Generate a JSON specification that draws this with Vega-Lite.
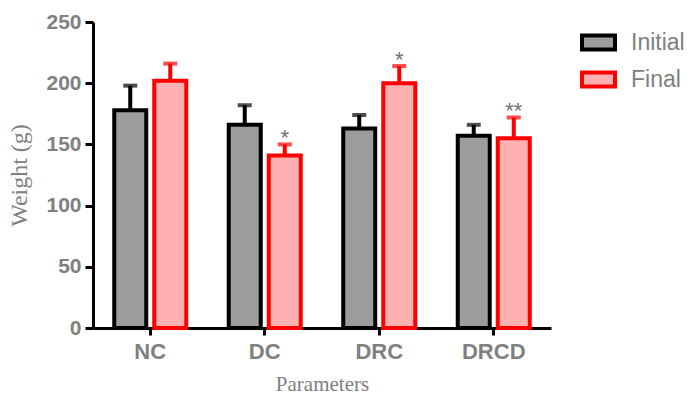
{
  "$schema": "https://vega.github.io/schema/vega-lite/v6.json",
  "width": 458,
  "height": 306,
  "autosize": {"type": "none"},
  "padding": {"left": 93, "top": 22, "right": 140, "bottom": 68},
  "background": "white",
  "config": {"view": {"stroke": null}},
  "data": {
    "values": [
      {"group": "NC", "series": "Initial", "mean": 178, "upper": 198, "sig": ""},
      {"group": "NC", "series": "Final", "mean": 202, "upper": 216, "sig": ""},
      {"group": "DC", "series": "Initial", "mean": 166, "upper": 182, "sig": ""},
      {"group": "DC", "series": "Final", "mean": 141, "upper": 150, "sig": "*"},
      {"group": "DRC", "series": "Initial", "mean": 163, "upper": 174, "sig": ""},
      {"group": "DRC", "series": "Final", "mean": 200, "upper": 214, "sig": "*"},
      {"group": "DRCD", "series": "Initial", "mean": 157, "upper": 166, "sig": ""},
      {"group": "DRCD", "series": "Final", "mean": 155, "upper": 172, "sig": "**"}
    ]
  },
  "encoding": {
    "x": {
      "field": "group",
      "type": "nominal",
      "sort": ["NC", "DC", "DRC", "DRCD"],
      "scale": {"paddingInner": 0.371, "paddingOuter": 0.1855},
      "axis": {
        "title": "Parameters",
        "titleFont": "Liberation Serif",
        "titleFontSize": 21,
        "titleFontWeight": "normal",
        "titleColor": "#808080",
        "titlePadding": 11,
        "labelFont": "Liberation Sans",
        "labelFontSize": 22,
        "labelFontWeight": "bold",
        "labelColor": "#808080",
        "labelAngle": 0,
        "labelPadding": 6,
        "domainColor": "black",
        "domainWidth": 3,
        "tickColor": "black",
        "tickWidth": 3,
        "tickSize": 7,
        "grid": false
      }
    },
    "xOffset": {
      "field": "series",
      "type": "nominal",
      "sort": ["Initial", "Final"],
      "scale": {"paddingInner": 0.2, "paddingOuter": 0}
    }
  },
  "layer": [
    {
      "mark": {"type": "bar", "strokeWidth": 4, "strokeJoin": "miter"},
      "encoding": {
        "y": {
          "field": "mean",
          "type": "quantitative",
          "scale": {"domain": [0, 250], "nice": false},
          "axis": {
            "title": "Weight (g)",
            "titleFont": "Liberation Serif",
            "titleFontSize": 24,
            "titleFontWeight": "normal",
            "titleColor": "#808080",
            "titlePadding": 14,
            "values": [0, 50, 100, 150, 200, 250],
            "labelFont": "Liberation Sans",
            "labelFontSize": 21,
            "labelFontWeight": "bold",
            "labelColor": "#808080",
            "labelPadding": 4,
            "domainColor": "black",
            "domainWidth": 3,
            "tickColor": "black",
            "tickWidth": 3,
            "tickSize": 8,
            "grid": false
          }
        },
        "fill": {
          "field": "series",
          "type": "nominal",
          "sort": ["Initial", "Final"],
          "scale": {"domain": ["Initial", "Final"], "range": ["#9c9c9c", "#ffb0b0"]},
          "legend": {
            "title": null,
            "orient": "none",
            "legendX": 487,
            "legendY": 2,
            "padding": 0,
            "symbolType": "M-1,-0.424H1V0.424H-1Z",
            "symbolSize": 1089,
            "symbolStrokeWidth": 4,
            "labelFont": "Liberation Sans",
            "labelFontSize": 23,
            "labelColor": "#808080",
            "labelOffset": 14,
            "rowPadding": 3
          }
        },
        "stroke": {
          "field": "series",
          "type": "nominal",
          "sort": ["Initial", "Final"],
          "scale": {"domain": ["Initial", "Final"], "range": ["black", "red"]},
          "legend": {
            "title": null,
            "orient": "none",
            "legendX": 487,
            "legendY": 2,
            "padding": 0,
            "symbolType": "M-1,-0.424H1V0.424H-1Z",
            "symbolSize": 1089,
            "symbolStrokeWidth": 4,
            "labelFont": "Liberation Sans",
            "labelFontSize": 23,
            "labelColor": "#808080",
            "labelOffset": 14,
            "rowPadding": 3
          }
        }
      }
    },
    {
      "mark": {"type": "rule", "strokeWidth": 4},
      "encoding": {
        "y": {"field": "mean", "type": "quantitative"},
        "y2": {"field": "upper"},
        "stroke": {"condition": {"test": "datum.series === 'Initial'", "value": "black"}, "value": "red"}
      }
    },
    {
      "mark": {"type": "tick", "thickness": 4, "size": 14},
      "encoding": {
        "y": {"field": "upper", "type": "quantitative"},
        "fill": {"condition": {"test": "datum.series === 'Initial'", "value": "black"}, "value": "red"}
      }
    },
    {
      "mark": {"type": "text", "fontSize": 22, "font": "Liberation Sans", "color": "#707070", "baseline": "alphabetic", "dy": 1},
      "encoding": {
        "y": {"field": "upper", "type": "quantitative"},
        "text": {"field": "sig"}
      }
    }
  ]
}
